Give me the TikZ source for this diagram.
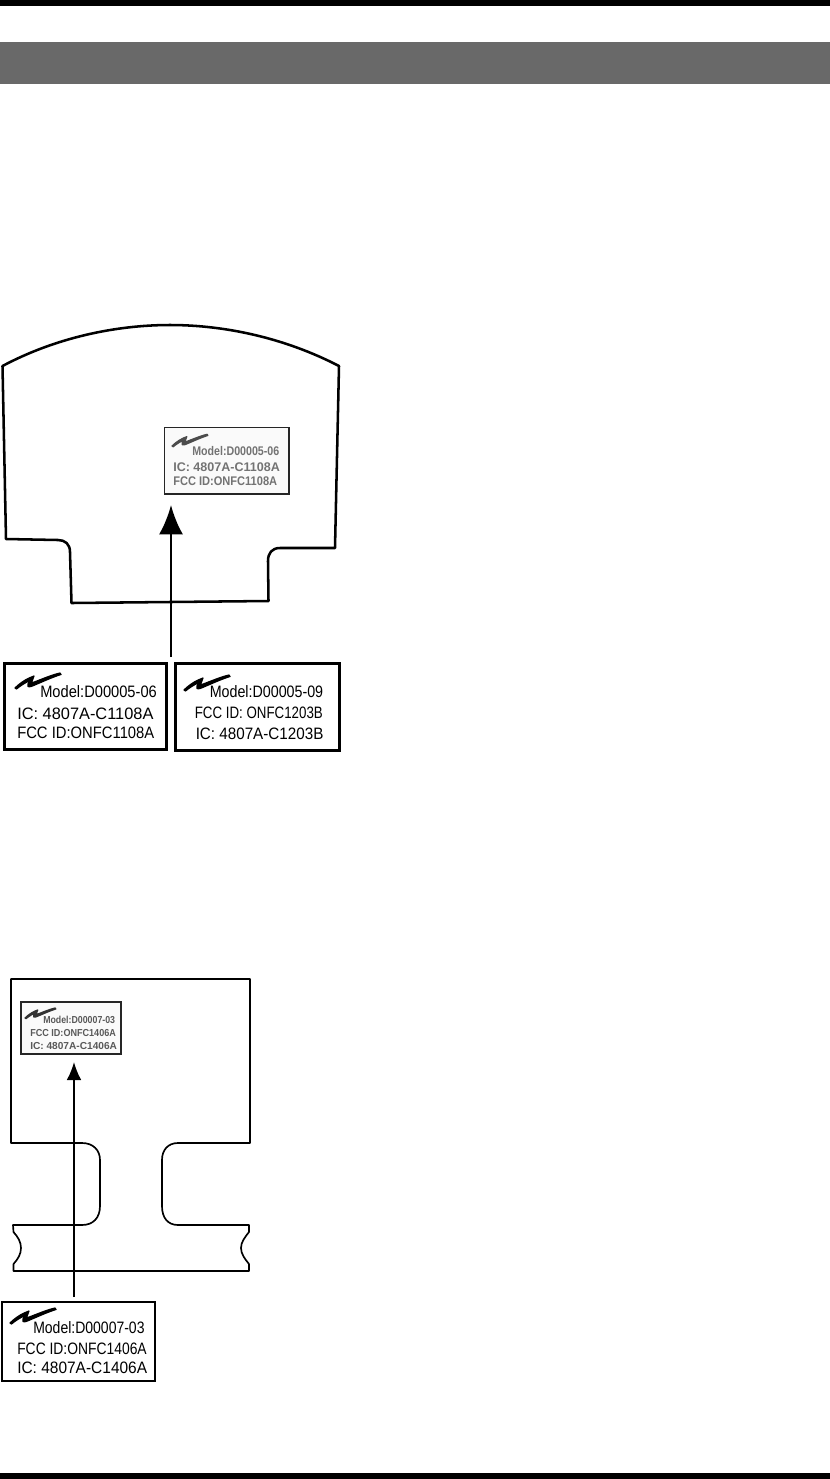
\documentclass[tikz,border=0pt]{standalone}
\usepackage{fontspec}
\setmainfont{Liberation Sans}
\usepackage{tikz}
\usetikzlibrary{arrows.meta}
\usetikzlibrary{calc}

\definecolor{band_gray}{HTML}{696969}

\tikzset{
        logo_mark/.pic={
            \filldraw [line width=0.9pt, line join=round] (0,0) .. controls (6,-6) and (13,-10) .. (19,-12) .. controls (18,-9) and (17,-7) .. (16.5,-5)
                .. controls (25,-8) and (36,-13) .. (45,-15) -- (46,-13.5) .. controls (35,-10) and (25,-5) .. (16,-1.5)
                .. controls (13,-0.5) and (12,-2) .. (13,-4) -- (14.5,-7.5) .. controls (10,-5) and (5,-2) .. (1.5,1) -- cycle;
        }
}

\begin{document}
\begin{tikzpicture}[x=0.75pt, y=-0.75pt,
        bar_style/.style={fill=black},
        band_style/.style={fill=band_gray},
        outline_style/.style={draw=black, line width=1.9pt, line join=round},
        outline_thin_style/.style={draw=black, line width=1.25pt, line join=round},
        big_box_style/.style={draw=black, line width=2.2pt, fill=white, rectangle, inner sep=0pt},
        thin_box_style/.style={draw=black, line width=1.3pt, fill=white, rectangle, inner sep=0pt},
        small_box_style/.style={draw=black!85, line width=1pt, fill=black!2, rectangle, inner sep=0pt},
        text_style/.style={anchor=west, inner sep=0pt, font=\fontsize{12.4}{14}\selectfont\addfontfeature{FakeStretch=#1}, text=black},
        text_tiny_style/.style={anchor=west, inner sep=0pt, font=\bfseries\fontsize{9.4}{11}\selectfont\addfontfeature{FakeStretch=#1}, text=black!55},
        text_small_style/.style={anchor=west, inner sep=0pt, font=\bfseries\fontsize{7.6}{9}\selectfont\addfontfeature{FakeStretch=#1}, text=black!65},
        arrow_big_style/.style={draw=black, line width=2pt, -{Latex[length=22pt, width=18pt]}},
        arrow_small_style/.style={draw=black, line width=1.25pt, -{Latex[length=13.5pt, width=11pt]}}]

        \useasboundingbox (0,0) rectangle (830,1479);

        \fill [bar_style] (0,0) rectangle (830,6);
        \fill [band_style] (0,42) rectangle (830,84);
        \fill [bar_style] (0,1473) rectangle (830,1479);

        \draw [outline_style] (2.5,366) .. controls (55,338) and (115,325) .. (170,325)
            .. controls (225,325) and (285,338) .. (339,366)
            -- (335,548) -- (280,548) .. controls (272,548) and (268,553) .. (268,561)
            -- (268.5,601) -- (71.5,603) -- (70,552) .. controls (70,544) and (65,540) .. (58,540)
            -- (6,539) -- cycle;

        \node [small_box_style, minimum width=93.5pt, minimum height=50pt](tag1) at (226.5,460.5) {};
        \path (172,446) pic [black!70, scale=0.78] {logo_mark};
        \node [text_tiny_style=0.85](tag1_a) at (192,451) {Model:D00005-06};
        \node [text_tiny_style=1](tag1_b) at (173,467) {IC: 4807A-C1108A};
        \node [text_tiny_style=0.883](tag1_c) at (173,481) {FCC ID:ONFC1108A};

        \node [big_box_style, minimum width=122pt, minimum height=65pt](box1) at (85.5,706.5) {};
        \path (15,688) pic {logo_mark};
        \node [text_style=0.887](box1_a) at (40,692) {Model:D00005-06};
        \node [text_style=0.99](box1_b) at (17,714) {IC: 4807A-C1108A};
        \node [text_style=0.895](box1_c) at (17,733) {FCC ID:ONFC1108A};

        \node [big_box_style, minimum width=123.5pt, minimum height=65pt](box2) at (257.5,707) {};
        \path (184,690) pic {logo_mark};
        \node [text_style=0.863](box2_a) at (209.5,692) {Model:D00005-09};
        \node [text_style=0.806](box2_b) at (194.5,712.5) {FCC ID: ONFC1203B};
        \node [text_style=0.92](box2_c) at (195.5,733.5) {IC: 4807A-C1203B};

        \coordinate (tail1) at (171,657);
        \coordinate (tip1) at (171,505);
        \draw [arrow_big_style] (tail1) -- (tip1);

        \draw [outline_thin_style] (11,1143) -- (11,979) -- (250,979) -- (250,1143) -- (178,1143)
            .. controls (168,1143) and (162,1150) .. (162,1160) -- (162,1206)
            .. controls (162,1218) and (168,1225) .. (178,1225) -- (249,1225) -- (249,1232)
            .. controls (245,1237) and (241,1242) .. (241,1248) .. controls (241,1254) and (245,1259) .. (249,1264)
            -- (249,1271) -- (13.5,1271) -- (13.5,1264) .. controls (18,1259) and (21,1254) .. (21,1248)
            .. controls (21,1242) and (18,1237) .. (13.5,1232) -- (13,1225) -- (82,1225)
            .. controls (93,1225) and (100,1218) .. (100,1206) -- (100,1160)
            .. controls (100,1150) and (93,1143) .. (82,1143) -- cycle;
        \draw [draw=black, line width=1.9pt] (11,979) -- (250,979);

        \node [small_box_style, line width=1.3pt, minimum width=75pt, minimum height=39pt](tag2) at (71,1028) {};
        \path (25,1018) pic [black!80, scale=0.67] {logo_mark};
        \node [text_small_style=0.868](tag2_a) at (43,1020) {Model:D00007-03};
        \node [text_small_style=0.895](tag2_b) at (30,1033) {FCC ID:ONFC1406A};
        \node [text_small_style=1](tag2_c) at (30,1046) {IC: 4807A-C1406A};

        \node [thin_box_style, minimum width=115pt, minimum height=59.5pt](box3) at (78.5,1341.5) {};
        \path (10,1323) pic {logo_mark};
        \node [text_style=0.847](box3_a) at (33,1328) {Model:D00007-03};
        \node [text_style=0.839](box3_b) at (17,1349) {FCC ID:ONFC1406A};
        \node [text_style=0.936](box3_c) at (17,1368) {IC: 4807A-C1406A};

        \coordinate (tail2) at (74,1297);
        \coordinate (tip2) at (74,1062);
        \draw [arrow_small_style] (tail2) -- (tip2);

\end{tikzpicture}
\end{document}
